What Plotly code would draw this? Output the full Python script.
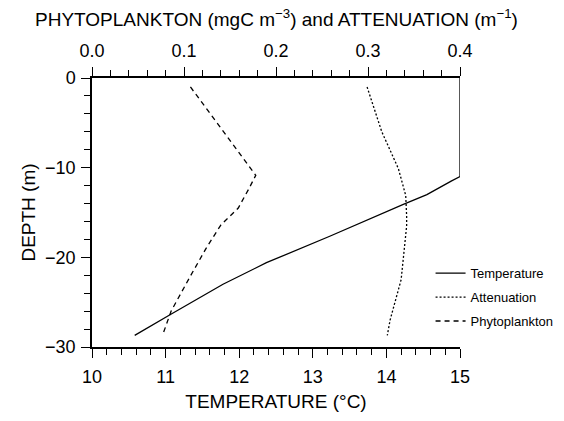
import plotly.graph_objects as go

# Temperature profile (bottom axis, °C)
temp_depth = [0, -11.0, -11.5, -12.2, -13.0, -14.1, -17.65, -20.6, -23.0, -26.4, -28.7]
temp_vals = [15.0, 15.0, 14.88, 14.72, 14.55, 14.23, 13.23, 12.37, 11.78, 11.06, 10.58]

# Attenuation profile (top axis, m^-1)
att_depth = [-1.0, -6.0, -10.1, -13.1, -15.4, -16.5, -22.5, -27.0, -28.7]
att_vals = [0.299, 0.315, 0.333, 0.341, 0.342, 0.342, 0.336, 0.324, 0.321]

# Phytoplankton profile (top axis, mgC m^-3)
phy_depth = [-1.0, -10.85, -12.45, -14.5, -16.4, -19.0, -21.9, -26.0, -28.6]
phy_vals = [0.107, 0.178, 0.170, 0.159, 0.140, 0.124, 0.108, 0.086, 0.077]

bottom_ticks = [10, 11, 12, 13, 14, 15]
top_ticks = [0.0, 0.1, 0.2, 0.3, 0.4]
depth_ticks = [0, -10, -20, -30]

FONT = "Liberation Sans"
FS = 18
FT = 19
fig = go.Figure()
fig.add_trace(go.Scatter(x=temp_vals, y=temp_depth, mode="lines", name="Temperature", legendgroup="a",
                         line=dict(color="black", width=1.3), xaxis="x", yaxis="y"))
fig.add_trace(go.Scatter(x=att_vals, y=att_depth, mode="lines", name="Attenuation", legendgroup="b",
                         line=dict(color="black", width=1.3, dash="2px,2px"), xaxis="x2", yaxis="y"))
fig.add_trace(go.Scatter(x=phy_vals, y=phy_depth, mode="lines", name="Phytoplankton", legendgroup="c",
                         line=dict(color="black", width=1.3, dash="5px,4px"), xaxis="x2", yaxis="y"))

axis_common = dict(showline=True, linecolor="black", linewidth=1.5, ticks="outside",
                   tickcolor="black", tickwidth=1.2, ticklen=9, showgrid=False, zeroline=False,
                   tickfont=dict(family=FONT, size=FS, color="black"))

fig.update_layout(
    width=564, height=421,
    margin=dict(l=92, r=104, t=78, b=74, autoexpand=False),
    paper_bgcolor="white", plot_bgcolor="white",
    showlegend=True,
    legend=dict(x=0.92, y=0.33, xanchor="left", yanchor="top",
                font=dict(family=FONT, size=13, color="black"),
                bgcolor="rgba(0,0,0,0)", itemwidth=30, tracegroupgap=4),
    xaxis=dict(range=[10, 15], tickvals=bottom_ticks, ticktext=[str(v) for v in bottom_ticks],
               minor=dict(dtick=0.2, ticks="outside", ticklen=6, tickcolor="black", tickwidth=1.2),
               title=dict(text="TEMPERATURE (°C)", font=dict(family=FONT, size=FT, color="black"), standoff=8),
               ticklabelstandoff=4,
               **axis_common),
    xaxis2=dict(range=[0, 0.4], overlaying="x", side="top", anchor="y",
                tickvals=top_ticks, ticktext=[f"{v:.1f}" for v in top_ticks],
                minor=dict(dtick=0.02, ticks="outside", ticklen=6, tickcolor="black", tickwidth=1.2),
                ticklabelstandoff=3,
                **axis_common),
    yaxis=dict(range=[-30, 0], tickvals=depth_ticks,
               ticktext=[("\u2212" + str(-v)) if v < 0 else "0" for v in depth_ticks],
               minor=dict(dtick=2, ticks="outside", ticklen=6, tickcolor="black", tickwidth=1.2),
               title=dict(text="DEPTH (m)", font=dict(family=FONT, size=FT, color="black"), standoff=4),
               ticklabelstandoff=2,
               **axis_common),
    annotations=[dict(text="PHYTOPLANKTON (mgC m<sup>\u22123</sup>) and ATTENUATION (m<sup>\u22121</sup>)",
                      xref="paper", yref="paper", x=0.5, y=(421 - 74 - 18) / (421 - 78 - 74),
                      yanchor="middle", xanchor="center",
                      showarrow=False, font=dict(family=FONT, size=FT, color="black"))],
)

fig.write_html("out.html")
